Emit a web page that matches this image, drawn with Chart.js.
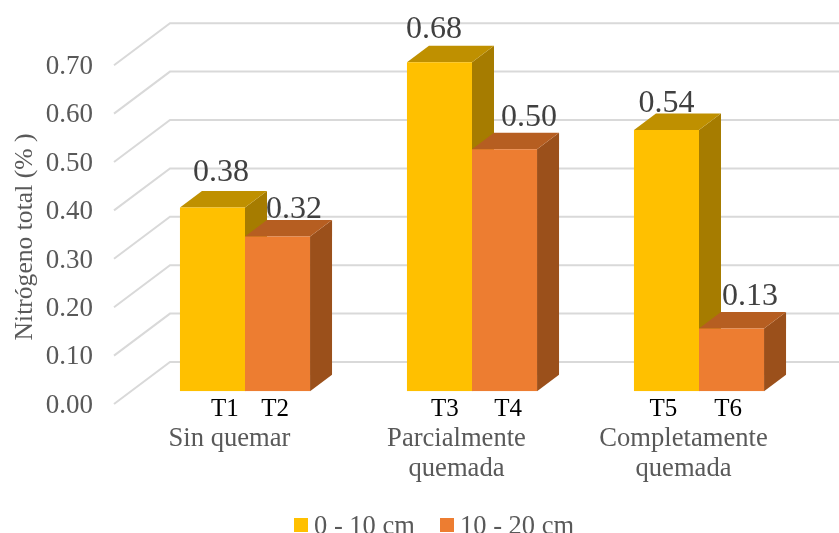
<!DOCTYPE html>
<html lang="es">
<head>
<meta charset="utf-8">
<title>Nitrógeno total</title>
<style>
  html, body { margin: 0; padding: 0; background: #ffffff; }
  canvas { display: block; }
</style>
<script src="https://cdn.jsdelivr.net/npm/chart.js@4"></script>
</head>
<body>
<canvas id="chart" width="839" height="533"></canvas>
<script>
// Total nitrogen by burn condition and soil depth
const categories = [["Sin quemar"], ["Parcialmente", "quemada"], ["Completamente", "quemada"]];
const depthShallow = [0.38, 0.68, 0.54];
const depthDeep = [0.32, 0.50, 0.13];
const shallowName = "0 - 10 cm";
const deepName = "10 - 20 cm";
const treatments = [["T1", "T3", "T5"], ["T2", "T4", "T6"]];
const axisTitle = "Nitrógeno total (% )";

// Hand placement of annotations, relative to the bar they belong to
const treatmentShift = [[12.5, 5.5, -3], [-2.5, 3.5, -3.5]];
const valueShift = [[[8.5, -35.2], [-5.5, -32.2], [0, -26.8]], [[16.5, -27.2], [24.5, -32.1], [18.5, -31.8]]];

const FONT = '"Liberation Serif", "Times New Roman", serif';
const DEPTH_X = 22, DEPTH_Y = 16.5;
const faces = [
  { front: "#FFC000", top: "#BF9000", side: "#A67C00" },
  { front: "#ED7D31", top: "#B65E21", side: "#9B501B" }
];

function polygon(ctx, pts, fill) {
  ctx.beginPath();
  pts.forEach((p, i) => i ? ctx.lineTo(p[0], p[1]) : ctx.moveTo(p[0], p[1]));
  ctx.closePath();
  ctx.fillStyle = fill;
  ctx.fill();
}

// Floor-and-wall gridlines plus the extruded faces behind each bar front
const box3d = {
  id: "box3d",
  beforeDatasetsDraw(chart) {
    const { ctx, scales: { y }, chartArea: area } = chart;
    ctx.save();
    ctx.strokeStyle = "#D9D9D9";
    ctx.lineWidth = 2;
    y.ticks.forEach(t => {
      const p = y.getPixelForValue(t.value);
      ctx.beginPath();
      ctx.moveTo(area.left - 17.5, p + 12.7);
      ctx.lineTo(area.left + 38.5, p - 29.3);
      ctx.lineTo(chart.width, p - 29.3);
      ctx.stroke();
    });
    chart.data.datasets.forEach((ds, d) => {
      chart.getDatasetMeta(d).data.forEach(bar => {
        const { x, y: top, base, width } = bar.getProps(["x", "y", "base", "width"]);
        const l = x - width / 2, r = x + width / 2;
        polygon(ctx, [[r, top], [r + DEPTH_X, top - DEPTH_Y], [r + DEPTH_X, base - DEPTH_Y], [r, base]], faces[d].side);
        polygon(ctx, [[l, top], [l + DEPTH_X, top - DEPTH_Y], [r + DEPTH_X, top - DEPTH_Y], [r, top]], faces[d].top);
      });
    });
    ctx.restore();
  },
  afterDatasetsDraw(chart) {
    const { ctx, scales: { y } } = chart;
    ctx.save();
    ctx.textAlign = "center";
    ctx.textBaseline = "middle";
    chart.data.datasets.forEach((ds, d) => {
      chart.getDatasetMeta(d).data.forEach((bar, i) => {
        // value above the bar
        ctx.font = "32px " + FONT;
        ctx.fillStyle = "#404040";
        ctx.fillText(ds.data[i].toFixed(2), bar.x + valueShift[d][i][0], bar.y + valueShift[d][i][1]);
        // treatment code under the bar
        ctx.font = "25px " + FONT;
        ctx.fillStyle = "#000000";
        ctx.fillText(treatments[d][i], bar.x + treatmentShift[d][i], y.bottom + 18);
      });
    });

    // vertical axis title
    ctx.save();
    ctx.translate(25, 237);
    ctx.rotate(-Math.PI / 2);
    ctx.font = "25.6px " + FONT;
    ctx.fillStyle = "#595959";
    ctx.fillText(axisTitle, 0, 0);
    ctx.restore();

    // legend along the bottom edge
    ctx.textAlign = "left";
    ctx.font = "26.5px " + FONT;
    const swatchX = [294, 440];
    chart.data.datasets.forEach((ds, d) => {
      ctx.fillStyle = ds.backgroundColor;
      ctx.fillRect(swatchX[d], 518, 14, 14);
      ctx.fillStyle = "#595959";
      ctx.fillText(ds.label, swatchX[d] + 20, 527);
    });
    ctx.restore();
  }
};

new Chart(document.getElementById("chart"), {
  type: "bar",
  data: {
    labels: categories,
    datasets: [
      { label: shallowName, data: depthShallow, backgroundColor: faces[0].front },
      { label: deepName, data: depthDeep, backgroundColor: faces[1].front }
    ]
  },
  options: {
    responsive: false,
    animation: false,
    events: [],
    layout: { padding: { top: 52.5, right: 26.5, left: 0, bottom: 0 } },
    datasets: { bar: { barPercentage: 1, categoryPercentage: 0.573, borderWidth: 0 } },
    plugins: { legend: { display: false }, tooltip: { enabled: false }, title: { display: false } },
    scales: {
      x: {
        grid: { display: false, drawTicks: false },
        border: { display: false },
        afterFit(scale) { scale.height = 141.7; },
        ticks: {
          autoSkip: false,
          maxRotation: 0,
          padding: 32.5,
          labelOffset: -15.5,
          color: "#595959",
          font: { family: FONT, size: 26.6, lineHeight: 1.13 }
        }
      },
      y: {
        min: 0,
        max: 0.7,
        grid: { display: false, drawTicks: false },
        border: { display: false },
        // the wide tick padding must not reserve extra room above the plot
        afterFit(scale) { scale.width = 131.5; scale.paddingTop = 0; scale.paddingBottom = 0; },
        ticks: {
          stepSize: 0.1,
          padding: 38.5,
          labelOffset: 14.5,
          color: "#595959",
          font: { family: FONT, size: 27 },
          callback: v => v.toFixed(2)
        }
      }
    }
  },
  plugins: [box3d]
});
</script>
</body>
</html>
